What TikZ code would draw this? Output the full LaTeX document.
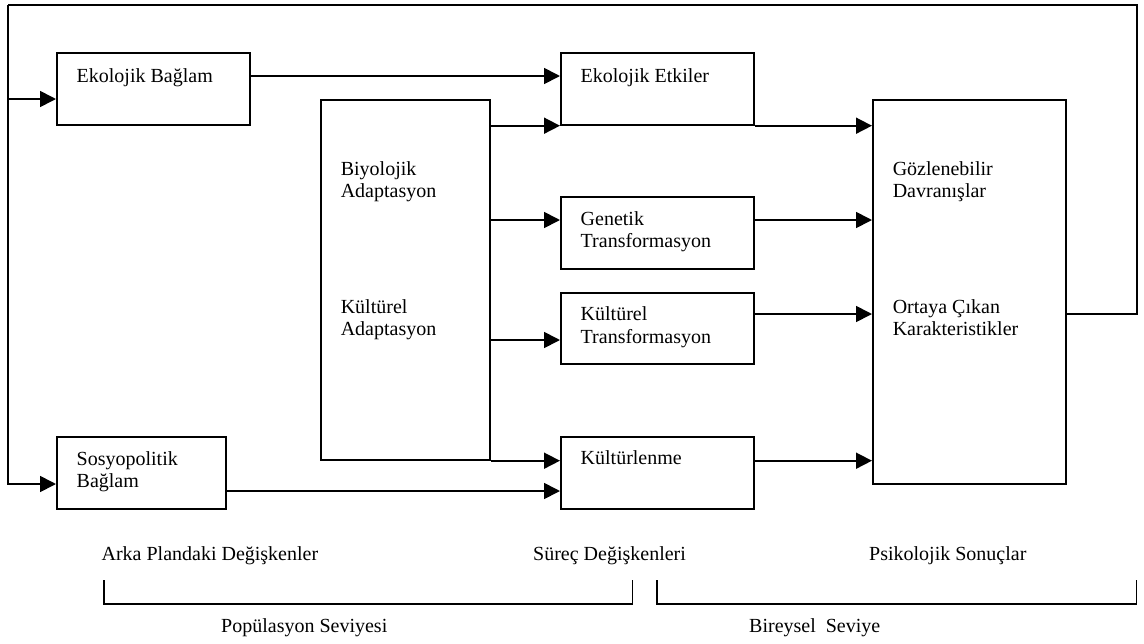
\documentclass[tikz,border=0pt]{standalone}
\usepackage{fontspec}
\setmainfont{Liberation Serif}
\usetikzlibrary{arrows.meta}
\begin{document}
\begin{tikzpicture}[x=1pt,y=-1pt,
  box/.style={draw, line width=1.7pt, anchor=north west, inner sep=0pt,
              minimum width=193pt, minimum height=72pt},
  lbl/.style={anchor=base west, inner sep=0pt, font=\fontsize{20}{23}\selectfont},
  link/.style={line width=1.7pt},
  arr/.style={link, -{Triangle[length=16pt,width=16pt]}},
  bracket/.style={line width=1.5pt}]
\useasboundingbox (0,0) rectangle (1144,643);

% boxes
\node[box] (eb) at (56,52) {};
\node[box] (ee) at (560,52) {};
\node[box, minimum width=169pt, minimum height=360pt] (ad) at (320,99) {};
\node[box] (gt) at (560,196) {};
\node[box, minimum height=71pt] (kt) at (560,292) {};
\node[box] (kl) at (560,436) {};
\node[box, minimum width=169pt] (sp) at (56,436) {};
\node[box, minimum height=384pt] (ps) at (872,99) {};

% box texts
\node[lbl] (t-eb) at (76.5,82) {Ekolojik Bağlam};
\node[lbl] (t-ee) at (580.5,82) {Ekolojik Etkiler};
\node[lbl] (t-ad1) at (340.6,175) {Biyolojik};
\node[lbl] (t-ad2) at (340.6,197) {Adaptasyon};
\node[lbl] (t-ad3) at (340.6,313) {Kültürel};
\node[lbl] (t-ad4) at (340.6,335) {Adaptasyon};
\node[lbl] (t-gt1) at (580.5,225) {Genetik};
\node[lbl] (t-gt2) at (580.5,247) {Transformasyon};
\node[lbl] (t-kt1) at (580.5,320) {Kültürel};
\node[lbl] (t-kt2) at (580.5,343) {Transformasyon};
\node[lbl] (t-kl) at (580.5,464) {Kültürlenme};
\node[lbl] (t-sp1) at (76.5,465) {Sosyopolitik};
\node[lbl] (t-sp2) at (76.5,487) {Bağlam};
\node[lbl] (t-ps1) at (892.6,175) {Gözlenebilir};
\node[lbl] (t-ps2) at (892.6,197) {Davranışlar};
\node[lbl] (t-ps3) at (892.6,313) {Ortaya Çıkan};
\node[lbl] (t-ps4) at (892.6,335) {Karakteristikler};

% level captions
\node[lbl] (c-bg) at (101.4,560) {Arka Plandaki Değişkenler};
\node[lbl] (c-pr) at (533,560) {Süreç Değişkenleri};
\node[lbl] (c-ps) at (869,560) {Psikolojik Sonuçlar};
\node[lbl] (c-pop) at (221,632) {Popülasyon Seviyesi};
\node[lbl] (c-ind) at (749,632) {Bireysel~~Seviye};

% feedback loop
\coordinate (tl) at (8,5);
\coordinate (tr) at (1137,5);
\draw[link] ([yshift=-215pt]ps.north east) -| (tr) -- (tl);
\draw[arr] (tl) |- ([yshift=-48pt]sp.north west);
\path ([yshift=-47pt]eb.north west) coordinate (ebin);
\draw[arr] (tl |- ebin) -- (ebin);

% context to process
\draw[arr] ([yshift=-24pt]eb.north east) -- ([yshift=-24pt]ee.north west);
\draw[arr] ([yshift=-55pt]sp.north east) -- ([yshift=-55pt]kl.north west);

% adaptation to process
\draw[arr] (ad.east |- ee.south west) -- (ee.south west);
\path ([yshift=-24pt]gt.north west) coordinate (gtin);
\draw[arr] (ad.east |- gtin) -- (gtin);
\path ([yshift=-48pt]kt.north west) coordinate (ktin);
\draw[arr] (ad.east |- ktin) -- (ktin);
\draw[arr] (ad.south east) -- (kl.west |- ad.south east);

% process to outcomes
\draw[arr] (ee.south east) -- (ps.west |- ee.south east);
\path ([yshift=-24pt]gt.north east) coordinate (gtout);
\draw[arr] (gtout) -- (ps.west |- gtout);
\path ([yshift=-22pt]kt.north east) coordinate (ktout);
\draw[arr] (ktout) -- (ps.west |- ktout);
\draw[arr] (kl.east |- ad.south east) -- (ps.west |- ad.south east);

% level brackets
\coordinate (b1a) at (104,580);
\coordinate (b1b) at (632.6,580);
\coordinate (b2a) at (657,580);
\coordinate (b2b) at (1136.5,580);
\draw[bracket] (b1a) -- ++(0,24) -| (b1b);
\draw[bracket] (b2a) -- ++(0,24) -| (b2b);
\end{tikzpicture}
\end{document}
